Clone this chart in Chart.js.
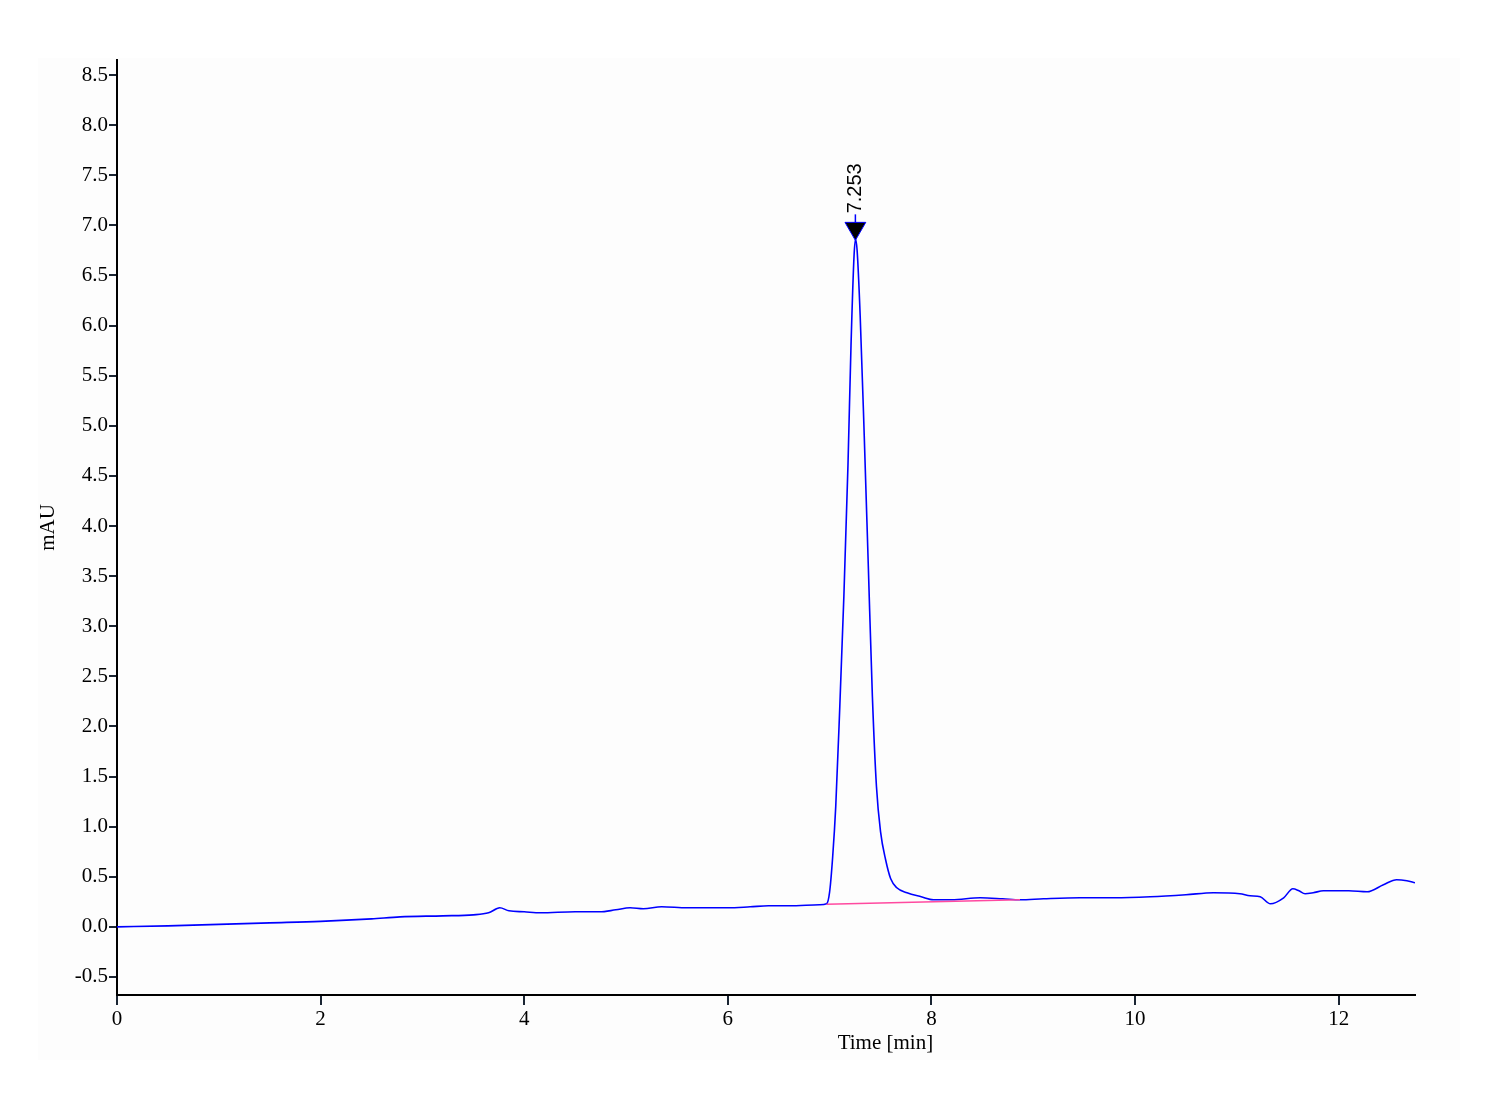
<!DOCTYPE html>
<html>
<head>
<meta charset="utf-8">
<script src="https://cdn.jsdelivr.net/npm/chart.js@4"></script>
<style>
  html, body { margin: 0; padding: 0; background: #fff; }
  #wrap { width: 1500px; height: 1100px; }
</style>
</head>
<body>
<div id="wrap"><canvas id="chart" width="1500" height="1100"></canvas></div>
<script>
// signal trace: time [min] and absorbance [mAU]
let times = [0, 0.5, 1.0, 1.5, 2.0, 2.5, 2.78, 3.2, 3.5, 3.65, 3.76, 3.85, 4.0, 4.16, 4.5, 4.74, 4.9, 5.04, 5.17, 5.35, 5.6, 6.0, 6.22, 6.4, 6.6, 6.9, 6.97,
    7.0, 7.03, 7.06, 7.10, 7.14, 7.18, 7.21, 7.24, 7.255, 7.27, 7.30, 7.34, 7.38, 7.42, 7.46, 7.50, 7.55, 7.60, 7.66, 7.76, 7.9,
    8.02, 8.2, 8.48, 8.7, 8.87, 9.1, 9.46, 9.8, 10.15, 10.5, 10.77, 11.03, 11.13, 11.23, 11.33, 11.46, 11.55, 11.61, 11.67, 11.75, 11.85, 12.1, 12.28, 12.44, 12.57, 12.67, 12.75];
let mau = [0.00, 0.01, 0.025, 0.04, 0.055, 0.08, 0.10, 0.11, 0.12, 0.14, 0.19, 0.16, 0.15, 0.14, 0.15, 0.15, 0.17, 0.19, 0.18, 0.20, 0.19, 0.19, 0.20, 0.21, 0.21, 0.22, 0.23,
    0.35, 0.7, 1.2, 2.2, 3.3, 4.6, 5.8, 6.7, 6.86, 6.75, 6.1, 4.9, 3.6, 2.3, 1.4, 0.95, 0.67, 0.48, 0.39, 0.34, 0.30,
    0.27, 0.27, 0.29, 0.28, 0.27, 0.28, 0.29, 0.29, 0.30, 0.32, 0.34, 0.33, 0.31, 0.30, 0.23, 0.29, 0.38, 0.36, 0.33, 0.34, 0.36, 0.36, 0.35, 0.42, 0.47, 0.46, 0.44];

// integration baseline under the peak
let baseTimes = [6.97, 8.87];
let baseMau = [0.225, 0.27];

// peak marker
let peakTimes = [7.253];
let peakMarkY = [6.97];
let peakLabels = ["7.253"];

let xTicks = [0, 2, 4, 6, 8, 10, 12];
let yTicks = [-0.5, 0.0, 0.5, 1.0, 1.5, 2.0, 2.5, 3.0, 3.5, 4.0, 4.5, 5.0, 5.5, 6.0, 6.5, 7.0, 7.5, 8.0, 8.5];

let serif = "'Liberation Serif', 'Times New Roman', serif";

let panel = {
    id: 'panel',
    beforeDraw(chart) {
        let ctx = chart.ctx;
        ctx.save();
        ctx.fillStyle = '#fdfdfd';
        ctx.fillRect(38, 58, 1422, 1002);
        ctx.restore();
    }
};

let labels = {
    id: 'labels',
    afterDraw(chart) {
        let ctx = chart.ctx;
        let xs = chart.scales.x, ys = chart.scales.y;
        let area = chart.chartArea;
        ctx.save();
        // peak labels
        for (let i = 0; i < peakTimes.length; i++) {
            let px = xs.getPixelForValue(peakTimes[i]);
            let py = ys.getPixelForValue(peakMarkY[i]) - 6;
            ctx.strokeStyle = '#0000ff';
            ctx.lineWidth = 1.5;
            ctx.beginPath();
            ctx.moveTo(px, py);
            ctx.lineTo(px, py - 8);
            ctx.stroke();
            ctx.translate(px, py - 9);
            ctx.rotate(-Math.PI / 2);
            ctx.fillStyle = '#000';
            ctx.font = "20px 'Liberation Sans', Arial, sans-serif";
            ctx.textAlign = 'left';
            ctx.textBaseline = 'middle';
            ctx.fillText(peakLabels[i], 0, 0);
            ctx.setTransform(1, 0, 0, 1, 0, 0);
        }
        // axis titles
        ctx.fillStyle = '#000';
        ctx.font = '21px ' + serif;
        ctx.textAlign = 'center';
        ctx.textBaseline = 'middle';
        ctx.fillText('Time [min]', area.left + 0.592 * (area.right - area.left), 1043);
        ctx.translate(48, (area.top + area.bottom) / 2);
        ctx.rotate(-Math.PI / 2);
        ctx.fillText('mAU', 0, 0);
        ctx.restore();
    }
};

new Chart(document.getElementById('chart'), {
    type: 'scatter',
    data: {
        datasets: [
            {
                label: 'baseline',
                data: baseTimes.map((t, i) => ({x: t, y: baseMau[i]})),
                showLine: true,
                borderColor: '#ff4aa0',
                borderWidth: 1.5,
                pointRadius: 0
            },
            {
                label: 'signal',
                data: times.map((t, i) => ({x: t, y: mau[i]})),
                showLine: true,
                borderColor: '#0000ff',
                borderWidth: 1.6,
                pointRadius: 0,
                cubicInterpolationMode: 'monotone'
            },
            {
                label: 'peak',
                data: peakTimes.map((t, i) => ({x: t, y: peakMarkY[i]})),
                pointStyle: 'triangle',
                rotation: 180,
                pointRadius: 12,
                backgroundColor: '#000',
                borderColor: '#0000ff',
                borderWidth: 1
            }
        ]
    },
    options: {
        responsive: false,
        animation: false,
        layout: { padding: { left: 0, right: 85, top: 60, bottom: 0 } },
        plugins: {
            legend: { display: false },
            tooltip: { enabled: false }
        },
        scales: {
            x: {
                type: 'linear',
                min: 0,
                max: 12.75,
                afterFit: s => { s.height = 105; },
                afterBuildTicks: s => { s.ticks = xTicks.map(v => ({value: v})); },
                border: { color: '#000', width: 2 },
                grid: { drawOnChartArea: false, tickLength: 10, color: '#1a2533', lineWidth: 2 },
                ticks: { color: '#000', font: { family: serif, size: 21 }, padding: 2, maxRotation: 0 }
            },
            y: {
                min: -0.68,
                max: 8.65,
                afterFit: s => { s.width = 117; },
                afterBuildTicks: s => { s.ticks = yTicks.map(v => ({value: v})); },
                border: { color: '#000', width: 2 },
                grid: { drawOnChartArea: false, tickLength: 8, color: '#1a2533', lineWidth: 2 },
                ticks: { color: '#000', font: { family: serif, size: 21 }, padding: 1, callback: v => v.toFixed(1) }
            }
        }
    },
    plugins: [panel, labels]
});
</script>
</body>
</html>
